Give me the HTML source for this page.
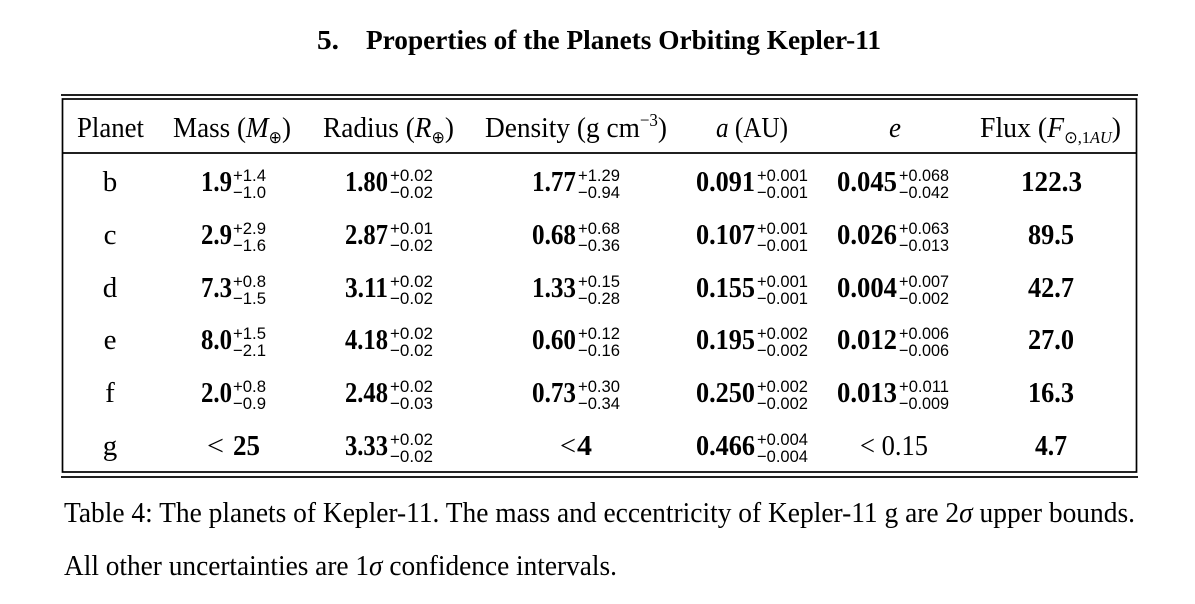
<!DOCTYPE html>
<html><head><meta charset="utf-8"><style>
html,body{margin:0;padding:0;background:#fff;}
svg{display:block;}
.t{font-family:"Liberation Serif",serif;fill:#000;}
.b{font-family:"Liberation Serif",serif;font-weight:bold;fill:#000;font-size:29px;}
.s{font-family:"Liberation Sans",sans-serif;fill:#000;font-size:17px;}
.h{font-family:"Liberation Serif",serif;fill:#000;font-size:29px;}
</style></head><body>
<svg width="1195" height="604" viewBox="0 0 1195 604" xmlns="http://www.w3.org/2000/svg">
<rect width="1195" height="604" fill="#fff"/>
<!-- Title -->
<text class="t" x="317" y="49" font-size="27" font-weight="bold" textLength="22" lengthAdjust="spacingAndGlyphs">5.</text>
<text class="t" x="366" y="49" font-size="27" font-weight="bold" textLength="515" lengthAdjust="spacingAndGlyphs">Properties of the Planets Orbiting Kepler-11</text>

<!-- Lines -->
<g stroke="#000" stroke-width="1.7" fill="none">
<line x1="61" y1="95" x2="1138" y2="95"/>
<line x1="61" y1="477" x2="1138" y2="477"/>
<rect x="62.5" y="99" width="1074" height="373"/>
<line x1="62" y1="153" x2="1137" y2="153"/>
</g>

<!-- Header -->
<text class="h" x="77" y="137" textLength="67" lengthAdjust="spacingAndGlyphs">Planet</text>
<text class="h" x="173" y="137" textLength="118" lengthAdjust="spacingAndGlyphs">Mass (<tspan font-style="italic">M</tspan><tspan font-size="17" dy="6">⊕</tspan><tspan dy="-6">)</tspan></text>
<text class="h" x="323" y="137" textLength="131" lengthAdjust="spacingAndGlyphs">Radius (<tspan font-style="italic">R</tspan><tspan font-size="17" dy="6">⊕</tspan><tspan dy="-6">)</tspan></text>
<text class="h" x="485" y="137" textLength="182" lengthAdjust="spacingAndGlyphs">Density (g cm<tspan font-size="18" dy="-11">−3</tspan><tspan dy="11">)</tspan></text>
<text class="h" x="716" y="137" textLength="72" lengthAdjust="spacingAndGlyphs"><tspan font-style="italic">a</tspan> (AU)</text>
<text class="h" x="889" y="137" textLength="12" lengthAdjust="spacingAndGlyphs" font-style="italic">e</text>
<text class="h" x="980" y="137" textLength="141" lengthAdjust="spacingAndGlyphs">Flux (<tspan font-style="italic">F</tspan><tspan font-size="17" dy="6">⊙,1<tspan font-style="italic">AU</tspan></tspan><tspan dy="-6">)</tspan></text>

<!-- Planet letters -->
<g class="h" text-anchor="middle">
<text x="110" y="191">b</text>
<text x="110" y="244">c</text>
<text x="110" y="297">d</text>
<text x="110" y="349">e</text>
<text x="110" y="402">f</text>
<text x="110" y="455">g</text>
</g>

<!-- Row b -->
<text class="b" x="201" y="191" textLength="31" lengthAdjust="spacingAndGlyphs">1.9</text>
<text class="s" x="233" y="181" textLength="33" lengthAdjust="spacingAndGlyphs">+1.4</text>
<text class="s" x="233" y="198" textLength="33" lengthAdjust="spacingAndGlyphs">−1.0</text>
<text class="b" x="345" y="191" textLength="43" lengthAdjust="spacingAndGlyphs">1.80</text>
<text class="s" x="390" y="181" textLength="43" lengthAdjust="spacingAndGlyphs">+0.02</text>
<text class="s" x="390" y="198" textLength="43" lengthAdjust="spacingAndGlyphs">−0.02</text>
<text class="b" x="532" y="191" textLength="44" lengthAdjust="spacingAndGlyphs">1.77</text>
<text class="s" x="578" y="181" textLength="42" lengthAdjust="spacingAndGlyphs">+1.29</text>
<text class="s" x="578" y="198" textLength="42" lengthAdjust="spacingAndGlyphs">−0.94</text>
<text class="b" x="696" y="191" textLength="59" lengthAdjust="spacingAndGlyphs">0.091</text>
<text class="s" x="757" y="181" textLength="51" lengthAdjust="spacingAndGlyphs">+0.001</text>
<text class="s" x="757" y="198" textLength="51" lengthAdjust="spacingAndGlyphs">−0.001</text>
<text class="b" x="837" y="191" textLength="60" lengthAdjust="spacingAndGlyphs">0.045</text>
<text class="s" x="899" y="181" textLength="50" lengthAdjust="spacingAndGlyphs">+0.068</text>
<text class="s" x="899" y="198" textLength="50" lengthAdjust="spacingAndGlyphs">−0.042</text>
<text class="b" x="1021" y="191" textLength="61" lengthAdjust="spacingAndGlyphs">122.3</text>

<!-- Row c -->
<text class="b" x="201" y="244" textLength="31" lengthAdjust="spacingAndGlyphs">2.9</text>
<text class="s" x="233" y="234" textLength="33" lengthAdjust="spacingAndGlyphs">+2.9</text>
<text class="s" x="233" y="251" textLength="33" lengthAdjust="spacingAndGlyphs">−1.6</text>
<text class="b" x="345" y="244" textLength="43" lengthAdjust="spacingAndGlyphs">2.87</text>
<text class="s" x="390" y="234" textLength="43" lengthAdjust="spacingAndGlyphs">+0.01</text>
<text class="s" x="390" y="251" textLength="43" lengthAdjust="spacingAndGlyphs">−0.02</text>
<text class="b" x="532" y="244" textLength="44" lengthAdjust="spacingAndGlyphs">0.68</text>
<text class="s" x="578" y="234" textLength="42" lengthAdjust="spacingAndGlyphs">+0.68</text>
<text class="s" x="578" y="251" textLength="42" lengthAdjust="spacingAndGlyphs">−0.36</text>
<text class="b" x="696" y="244" textLength="59" lengthAdjust="spacingAndGlyphs">0.107</text>
<text class="s" x="757" y="234" textLength="51" lengthAdjust="spacingAndGlyphs">+0.001</text>
<text class="s" x="757" y="251" textLength="51" lengthAdjust="spacingAndGlyphs">−0.001</text>
<text class="b" x="837" y="244" textLength="60" lengthAdjust="spacingAndGlyphs">0.026</text>
<text class="s" x="899" y="234" textLength="50" lengthAdjust="spacingAndGlyphs">+0.063</text>
<text class="s" x="899" y="251" textLength="50" lengthAdjust="spacingAndGlyphs">−0.013</text>
<text class="b" x="1028" y="244" textLength="46" lengthAdjust="spacingAndGlyphs">89.5</text>

<!-- Row d -->
<text class="b" x="201" y="297" textLength="31" lengthAdjust="spacingAndGlyphs">7.3</text>
<text class="s" x="233" y="287" textLength="33" lengthAdjust="spacingAndGlyphs">+0.8</text>
<text class="s" x="233" y="304" textLength="33" lengthAdjust="spacingAndGlyphs">−1.5</text>
<text class="b" x="345" y="297" textLength="43" lengthAdjust="spacingAndGlyphs">3.11</text>
<text class="s" x="390" y="287" textLength="43" lengthAdjust="spacingAndGlyphs">+0.02</text>
<text class="s" x="390" y="304" textLength="43" lengthAdjust="spacingAndGlyphs">−0.02</text>
<text class="b" x="532" y="297" textLength="44" lengthAdjust="spacingAndGlyphs">1.33</text>
<text class="s" x="578" y="287" textLength="42" lengthAdjust="spacingAndGlyphs">+0.15</text>
<text class="s" x="578" y="304" textLength="42" lengthAdjust="spacingAndGlyphs">−0.28</text>
<text class="b" x="696" y="297" textLength="59" lengthAdjust="spacingAndGlyphs">0.155</text>
<text class="s" x="757" y="287" textLength="51" lengthAdjust="spacingAndGlyphs">+0.001</text>
<text class="s" x="757" y="304" textLength="51" lengthAdjust="spacingAndGlyphs">−0.001</text>
<text class="b" x="837" y="297" textLength="60" lengthAdjust="spacingAndGlyphs">0.004</text>
<text class="s" x="899" y="287" textLength="50" lengthAdjust="spacingAndGlyphs">+0.007</text>
<text class="s" x="899" y="304" textLength="50" lengthAdjust="spacingAndGlyphs">−0.002</text>
<text class="b" x="1028" y="297" textLength="46" lengthAdjust="spacingAndGlyphs">42.7</text>

<!-- Row e -->
<text class="b" x="201" y="349" textLength="31" lengthAdjust="spacingAndGlyphs">8.0</text>
<text class="s" x="233" y="339" textLength="33" lengthAdjust="spacingAndGlyphs">+1.5</text>
<text class="s" x="233" y="356" textLength="33" lengthAdjust="spacingAndGlyphs">−2.1</text>
<text class="b" x="345" y="349" textLength="43" lengthAdjust="spacingAndGlyphs">4.18</text>
<text class="s" x="390" y="339" textLength="43" lengthAdjust="spacingAndGlyphs">+0.02</text>
<text class="s" x="390" y="356" textLength="43" lengthAdjust="spacingAndGlyphs">−0.02</text>
<text class="b" x="532" y="349" textLength="44" lengthAdjust="spacingAndGlyphs">0.60</text>
<text class="s" x="578" y="339" textLength="42" lengthAdjust="spacingAndGlyphs">+0.12</text>
<text class="s" x="578" y="356" textLength="42" lengthAdjust="spacingAndGlyphs">−0.16</text>
<text class="b" x="696" y="349" textLength="59" lengthAdjust="spacingAndGlyphs">0.195</text>
<text class="s" x="757" y="339" textLength="51" lengthAdjust="spacingAndGlyphs">+0.002</text>
<text class="s" x="757" y="356" textLength="51" lengthAdjust="spacingAndGlyphs">−0.002</text>
<text class="b" x="837" y="349" textLength="60" lengthAdjust="spacingAndGlyphs">0.012</text>
<text class="s" x="899" y="339" textLength="50" lengthAdjust="spacingAndGlyphs">+0.006</text>
<text class="s" x="899" y="356" textLength="50" lengthAdjust="spacingAndGlyphs">−0.006</text>
<text class="b" x="1028" y="349" textLength="46" lengthAdjust="spacingAndGlyphs">27.0</text>

<!-- Row f -->
<text class="b" x="201" y="402" textLength="31" lengthAdjust="spacingAndGlyphs">2.0</text>
<text class="s" x="233" y="392" textLength="33" lengthAdjust="spacingAndGlyphs">+0.8</text>
<text class="s" x="233" y="409" textLength="33" lengthAdjust="spacingAndGlyphs">−0.9</text>
<text class="b" x="345" y="402" textLength="43" lengthAdjust="spacingAndGlyphs">2.48</text>
<text class="s" x="390" y="392" textLength="43" lengthAdjust="spacingAndGlyphs">+0.02</text>
<text class="s" x="390" y="409" textLength="43" lengthAdjust="spacingAndGlyphs">−0.03</text>
<text class="b" x="532" y="402" textLength="44" lengthAdjust="spacingAndGlyphs">0.73</text>
<text class="s" x="578" y="392" textLength="42" lengthAdjust="spacingAndGlyphs">+0.30</text>
<text class="s" x="578" y="409" textLength="42" lengthAdjust="spacingAndGlyphs">−0.34</text>
<text class="b" x="696" y="402" textLength="59" lengthAdjust="spacingAndGlyphs">0.250</text>
<text class="s" x="757" y="392" textLength="51" lengthAdjust="spacingAndGlyphs">+0.002</text>
<text class="s" x="757" y="409" textLength="51" lengthAdjust="spacingAndGlyphs">−0.002</text>
<text class="b" x="837" y="402" textLength="60" lengthAdjust="spacingAndGlyphs">0.013</text>
<text class="s" x="899" y="392" textLength="50" lengthAdjust="spacingAndGlyphs">+0.011</text>
<text class="s" x="899" y="409" textLength="50" lengthAdjust="spacingAndGlyphs">−0.009</text>
<text class="b" x="1028" y="402" textLength="46" lengthAdjust="spacingAndGlyphs">16.3</text>

<!-- Row g -->
<text class="h" x="207" y="455" textLength="17" lengthAdjust="spacingAndGlyphs">&lt;</text>
<text class="b" x="233" y="455" textLength="27" lengthAdjust="spacingAndGlyphs">25</text>
<text class="b" x="345" y="455" textLength="43" lengthAdjust="spacingAndGlyphs">3.33</text>
<text class="s" x="390" y="445" textLength="43" lengthAdjust="spacingAndGlyphs">+0.02</text>
<text class="s" x="390" y="462" textLength="43" lengthAdjust="spacingAndGlyphs">−0.02</text>
<text class="h" x="560" y="455" textLength="16" lengthAdjust="spacingAndGlyphs">&lt;</text>
<text class="b" x="577" y="455" textLength="15" lengthAdjust="spacingAndGlyphs">4</text>
<text class="b" x="696" y="455" textLength="59" lengthAdjust="spacingAndGlyphs">0.466</text>
<text class="s" x="757" y="445" textLength="51" lengthAdjust="spacingAndGlyphs">+0.004</text>
<text class="s" x="757" y="462" textLength="51" lengthAdjust="spacingAndGlyphs">−0.004</text>
<text class="h" x="860" y="455" textLength="68" lengthAdjust="spacingAndGlyphs">&lt; 0.15</text>
<text class="b" x="1035" y="455" textLength="32" lengthAdjust="spacingAndGlyphs">4.7</text>

<!-- Caption -->
<text class="t" x="64" y="522" font-size="28" textLength="1071" lengthAdjust="spacingAndGlyphs">Table 4: The planets of Kepler-11. The mass and eccentricity of Kepler-11 g are 2<tspan font-style="italic">σ</tspan> upper bounds.</text>
<text class="t" x="64" y="575" font-size="28" textLength="553" lengthAdjust="spacingAndGlyphs">All other uncertainties are 1<tspan font-style="italic">σ</tspan> confidence intervals.</text>
</svg>
</body></html>
